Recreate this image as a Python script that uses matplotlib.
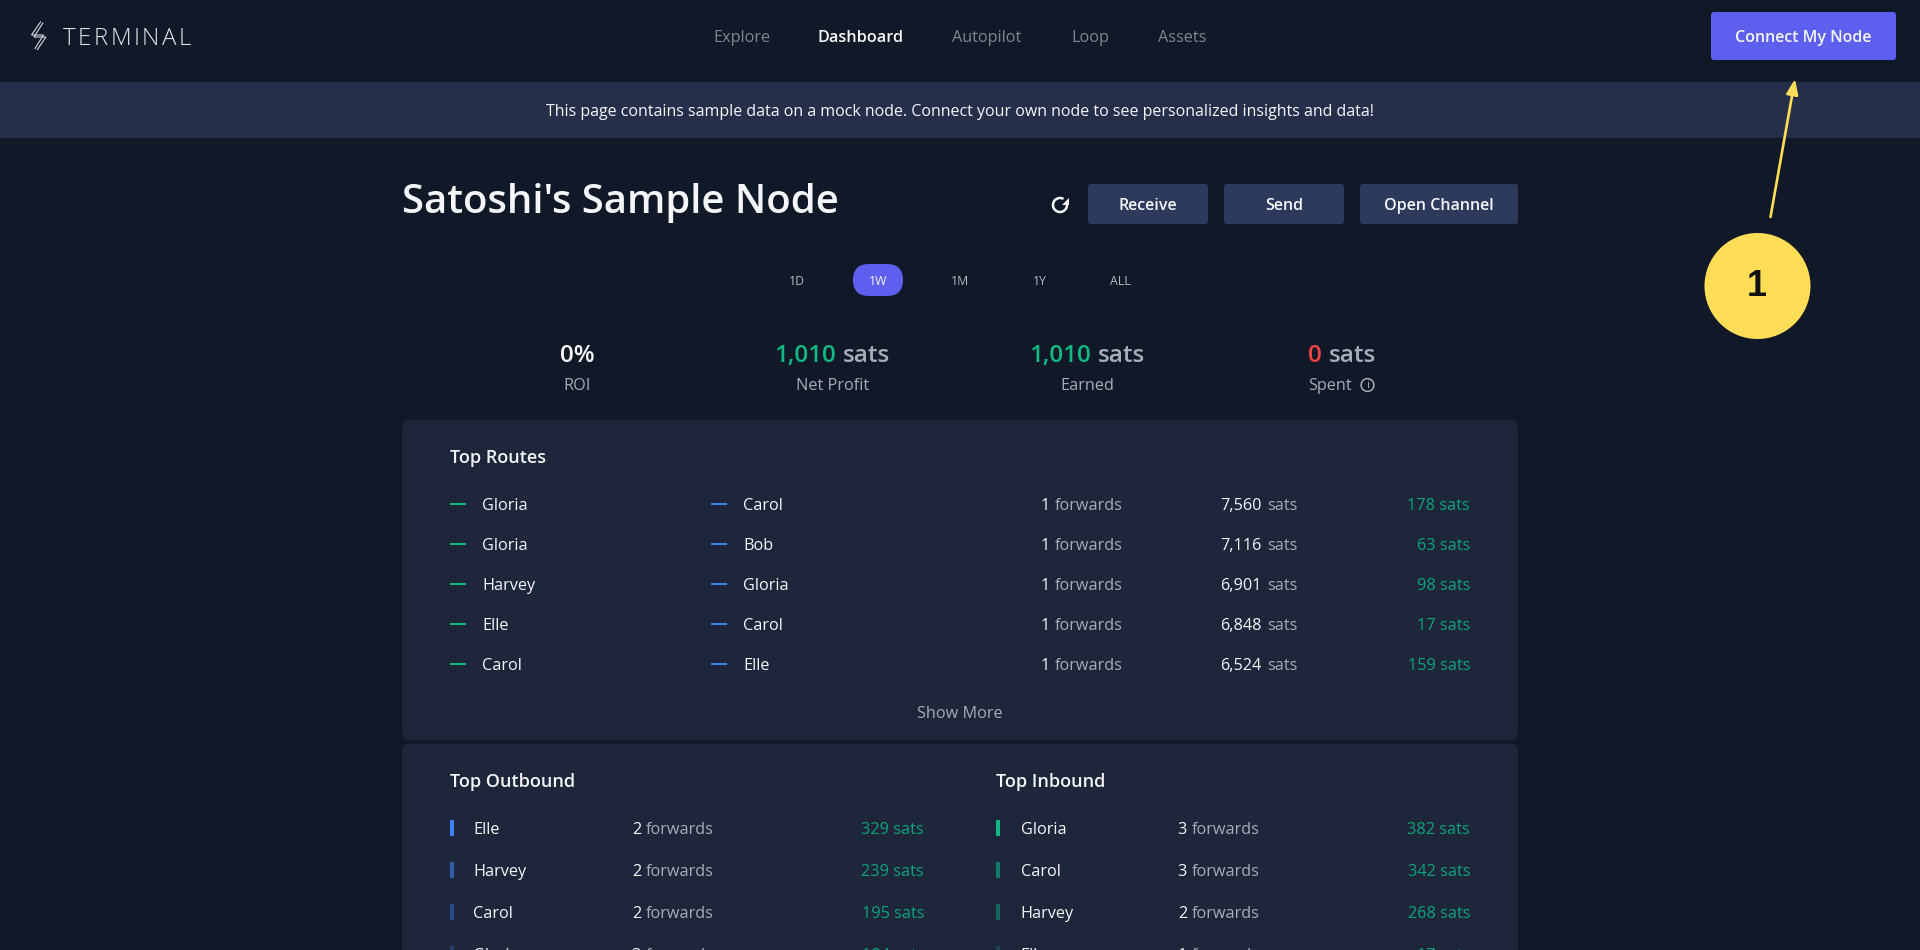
import matplotlib
matplotlib.use('Agg')
import matplotlib.pyplot as plt
from matplotlib.patches import FancyBboxPatch, Rectangle, Ellipse, FancyArrowPatch, Circle, Arc, Polygon

BG = '#111827'
BAND = '#252f4a'
CARD = '#1d263b'
BTN = '#2e3a5c'
PURPLE = '#5d5fef'
GREEN = '#10b981'
FEE = '#0ea47a'
RED = '#ef4444'
BLUE = '#3b82f6'
WHITE = '#f5f6f8'
GREY = '#a7acb8'
YELLOW = '#ffdd57'

nav_items = ['Explore', 'Dashboard', 'Autopilot', 'Loop', 'Assets']
periods = ['1D', '1W', '1M', '1Y', 'ALL']
buttons = ['Receive', 'Send', 'Open Channel']

route_from = ['Gloria', 'Gloria', 'Harvey', 'Elle', 'Carol']
route_to = ['Carol', 'Bob', 'Gloria', 'Carol', 'Elle']
route_forwards = [1, 1, 1, 1, 1]
route_amount = ['7,560', '7,116', '6,901', '6,848', '6,524']
route_fees = [178, 63, 98, 17, 159]

out_names = ['Elle', 'Harvey', 'Carol', 'Gloria']
out_forwards = [2, 2, 2, 3]
out_fees = [329, 239, 195, 184]
in_names = ['Gloria', 'Carol', 'Harvey', 'Elle']
in_forwards = [3, 3, 2, 1]
in_fees = [382, 342, 268, 17]

plt.rcParams['font.family'] = ['Open Sans', 'DejaVu Sans']

fig = plt.figure(figsize=(19.2, 9.5), dpi=100, facecolor=BG)
ax = fig.add_axes([0, 0, 1, 1])
ax.set_xlim(0, 1920)
ax.set_ylim(950, 0)
ax.axis('off')
fig.canvas.draw()
rend = fig.canvas.get_renderer()


def px(size):
    return size * 0.72


def box(x0, y0, x1, y1, color, r=5):
    ax.add_patch(FancyBboxPatch((x0 + r, y0 + r), x1 - x0 - 2 * r, y1 - y0 - 2 * r,
                                boxstyle='round,pad=%d,rounding_size=%d' % (r, r),
                                fc=color, ec='none'))


def label(x, y, s, size=16.2, color=WHITE, ha='left', weight='normal'):
    return ax.text(x, y, s, fontsize=px(size), color=color, ha=ha, va='center_baseline',
                   fontweight=weight, clip_on=True)


def width(t):
    return t.get_window_extent(rend).width


# 两段颜色的文字 (右对齐)
def two_right(right, y, s1, c1, s2, c2, size=16.2, weight='normal', gap=5):
    t2 = label(right, y, s2, size, c2, 'right', weight)
    label(right - width(t2) - gap, y, s1, size, c1, 'right', weight)


def two_center(cx, y, s1, c1, s2, c2, size=24.3, weight='normal', gap=7):
    t1 = label(0, y, s1, size, c1, 'left', weight)
    t2 = label(0, y, s2, size, c2, 'left', weight)
    w1, w2 = width(t1), width(t2)
    t1.set_x(cx - (w1 + w2 + gap) / 2)
    t2.set_x(cx - (w1 + w2 + gap) / 2 + w1 + gap)


# top bars
ax.add_patch(Rectangle((0, 82), 1920, 56, fc=BAND, ec='none'))

# logo
for dx, dy in [(0, 0), (2.4, 2)]:
    ax.plot([40.5 + dx, 31.5 + dx, 43.5 + dx, 35 + dx],
            [22 + dy * 0.5, 35 + dy, 35 + dy, 48.5 + dy * 0.5],
            color='#d5d8de', lw=0.8, solid_joinstyle='miter')
x = 62.5
for ch in 'TERMINAL':
    t = label(x, 36, ch, 24, '#dfe2e7')
    t.set_fontweight(300)
    x += width(t) + 2.6

nav_x = [742, 861, 987, 1090, 1182]
for name, nx in zip(nav_items, nav_x):
    on = name == 'Dashboard'
    label(nx, 36, name, 16.3, WHITE if on else '#81858f', 'center', 600 if on else 'normal')

box(1711, 12, 1896, 60, PURPLE, 3)
label(1803.5, 36, 'Connect My Node', 16, WHITE, 'center', 600)
label(960, 110, 'This page contains sample data on a mock node. Connect your own node to see personalized insights and data!',
      16.05, WHITE, 'center')

# title row
label(402, 198, "Satoshi's Sample Node", 40.1, WHITE, weight=600)
ax.add_patch(Arc((1060, 205), 14, 14, theta1=0, theta2=300, ec=WHITE, lw=1.8))
ax.add_patch(Polygon([[1068.5, 197.5], [1068.5, 204.5], [1061.5, 204.5]], fc=WHITE, ec='none'))
btn_x = [(1088, 1208), (1224, 1344), (1360, 1518)]
for name, (a, b) in zip(buttons, btn_x):
    box(a, 184, b, 224, BTN, 3)
    label((a + b) / 2, 204, name, 16, WHITE, 'center', 600)

# periods
box(853, 264, 903, 296, PURPLE, 16)
period_x = [797, 878, 960, 1040, 1120]
for p, nx in zip(periods, period_x):
    label(nx, 280, p, 12.2, WHITE if p == '1W' else '#b4b8c2', 'center')

# stats
label(577.5, 353, '0%', 24.3, WHITE, 'center', 600)
label(577.5, 384, 'ROI', 16.2, GREY, 'center')
two_center(832.5, 353, '1,010', GREEN, 'sats', GREY, weight=600)
label(832.5, 384, 'Net Profit', 16.2, GREY, 'center')
two_center(1087.5, 353, '1,010', GREEN, 'sats', GREY, weight=600)
label(1087.5, 384, 'Earned', 16.2, GREY, 'center')
two_center(1342, 353, '0', RED, 'sats', GREY, weight=600)
label(1308.5, 384, 'Spent', 16.2, GREY)
ax.add_patch(Circle((1367.5, 385), 6.4, fc='none', ec=GREY, lw=1.1))
ax.text(1367.5, 385.5, 'i', fontsize=8, color=GREY, ha='center', va='center')

# cards
box(402, 420, 1518, 740, CARD, 8)
box(402, 744, 1518, 958, CARD, 8)

# top routes
label(450, 456, 'Top Routes', 18, WHITE, weight=600)
route_y = [504, 544, 584, 624, 664]
for i, y in enumerate(route_y):
    ax.add_patch(Rectangle((450, y - 1), 16, 2, fc=GREEN, ec='none'))
    ax.add_patch(Rectangle((711, y - 1), 16, 2, fc=BLUE, ec='none'))
    label(482, y, route_from[i])
    label(743, y, route_to[i])
    two_right(1123, y, str(route_forwards[i]), WHITE, 'forwards', GREY)
    two_right(1297, y, route_amount[i], WHITE, 'sats', GREY)
    label(1470, y, '%d sats' % route_fees[i], 16.2, FEE, 'right')
label(960, 712, 'Show More', 16.2, GREY, 'center')

# top outbound / inbound
label(450, 780, 'Top Outbound', 18, WHITE, weight=600)
label(996, 780, 'Top Inbound', 18, WHITE, weight=600)
row_y = [828, 870, 912, 954]
out_colors = ['#3b82f6', '#2f5da8', '#2a4a87', '#273e6e']
in_colors = ['#10b981', '#127a69', '#14655c', '#1a4a50']
for i, y in enumerate(row_y):
    ax.add_patch(Rectangle((450, y - 8), 4, 16, fc=out_colors[i], ec='none'))
    label(473.5, y, out_names[i])
    two_right(714, y, str(out_forwards[i]), WHITE, 'forwards', GREY)
    label(924, y, '%d sats' % out_fees[i], 16.2, FEE, 'right')
    ax.add_patch(Rectangle((996, y - 8), 4, 16, fc=in_colors[i], ec='none'))
    label(1020.5, y, in_names[i])
    two_right(1260, y, str(in_forwards[i]), WHITE, 'forwards', GREY)
    label(1470, y, '%d sats' % in_fees[i], 16.2, FEE, 'right')

# callout
ax.add_patch(FancyArrowPatch((1770.5, 217), (1795, 79), arrowstyle='-|>,head_length=9,head_width=3.5',
                             color=YELLOW, lw=1.9, mutation_scale=1, shrinkA=0, shrinkB=0))
ax.add_patch(Ellipse((1757.5, 286), 106, 106, fc=YELLOW, ec='none'))
ax.text(1756.5, 286, '1', fontsize=px(36), color='#111111', ha='center', va='center',
        fontweight='bold', family=['Liberation Sans', 'DejaVu Sans'])

fig.savefig('out.png', dpi=100, facecolor=BG)
